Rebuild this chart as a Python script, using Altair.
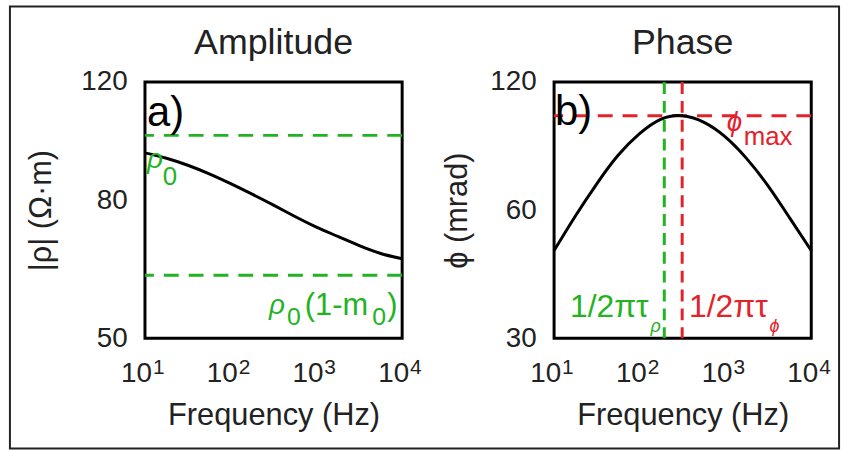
import altair as alt
import pandas as pd

# ---------------- data ----------------
amp_freq = [10, 17.8, 31.6, 56.2, 100, 178, 316, 562, 1000, 1778, 3162, 5623, 10000]
amplitude = [94.2, 92.5, 90.3, 87.7, 84.8, 81.8, 78.8, 75.8, 73.1, 70.8, 68.6, 66.8, 65.6]

phase_freq = [10, 17.5, 31.2, 55.5, 98.6, 175, 312, 555, 986, 1754, 3119, 5546, 10000]
phase = [48.2, 57.9, 69.0, 80.6, 90.6, 98.0, 100.0, 96.6, 89.3, 79.4, 68.5, 57.7, 48.2]

rho_lines = [100, 62]          # rho0 and rho0(1-m0)
phi_max = [100]                # phi_max
f_tau = [193, 312]             # 1/2*pi*tau_rho, 1/2*pi*tau_phi
f_tau_colors = ["green", "red"]

x_ticks = [10, 100, 1000, 10000]
x_exponents = ["1", "2", "3", "4"]
amp_ticks = [50, 80, 120]
phase_ticks = [30, 60, 120]

# ---------------- styles ----------------
W, H = 259, 258
GREEN = "#22b322"
RED = "#e3222b"
INK = "#222"
FONT = "Liberation Sans"

amp_df = pd.DataFrame({"freq": amp_freq, "amp": amplitude})
ph_df = pd.DataFrame({"freq": phase_freq, "phase": phase})
exp_df = pd.DataFrame({"tick": x_ticks, "exp": x_exponents})

x_scale = alt.Scale(type="log", domain=[10, 10000], nice=False)
x_axis = alt.Axis(values=x_ticks, labelExpr="'10'", labelOffset=-9,
                  labelFlush=False, labelOverlap=False,
                  title="Frequency (Hz)", labelPadding=22, titleY=87,
                  titleBaseline="alphabetic")


def label(text, x, y, color, size, italic=False, align="left"):
    return alt.Chart(pd.DataFrame({"t": [text]})).mark_text(
        text=text, align=align, baseline="alphabetic", color=color,
        fontSize=size, font=FONT, fontStyle="italic" if italic else "normal",
    ).encode(x=alt.value(x), y=alt.value(y))


def exponents():
    return alt.Chart(exp_df).mark_text(
        align="left", baseline="alphabetic", dx=8, fontSize=21, font=FONT, color=INK
    ).encode(x=alt.X("tick:Q", scale=x_scale), y=alt.value(H + 36), text="exp:N")


frame = alt.Chart(pd.DataFrame({"a": [0]})).mark_rect(
    fillOpacity=0, stroke=INK, strokeWidth=2
).encode(x=alt.value(-136), x2=alt.value(699), y=alt.value(-76), y2=alt.value(369))

# ---------------- amplitude panel ----------------
amp_y = alt.Y("amp:Q",
              scale=alt.Scale(type="log", domain=[50, 120], nice=False),
              axis=alt.Axis(values=amp_ticks, title="|ρ| (Ω·m)", labelPadding=18,
                            titleX=-104, titleBaseline="middle"))
amp_line = alt.Chart(amp_df).mark_line(color="black", strokeWidth=3, interpolate="natural").encode(
    x=alt.X("freq:Q", scale=x_scale, axis=x_axis), y=amp_y)
amp_rules = alt.Chart(pd.DataFrame({"v": rho_lines})).mark_rule(
    color=GREEN, strokeDash=[15, 10], strokeWidth=3).encode(y=alt.Y("v:Q"))

left = alt.layer(
    frame, amp_rules, amp_line, exponents(),
    label("Amplitude", W / 2, -28, INK, 36, align="center"),
    label("a)", 2, 44, "black", 42),
    label("ρ", 2, 87, GREEN, 28, italic=True),
    label("0", 18, 104, GREEN, 26),
    label("ρ", 125, 234, GREEN, 28, italic=True),
    label("0", 143, 245, GREEN, 25),
    label("(1-m", 161, 235, GREEN, 31),
    label("0", 229, 245, GREEN, 25),
    label(")", 244, 235, GREEN, 31),
).properties(width=W, height=H)

# ---------------- phase panel ----------------
ph_y = alt.Y("phase:Q",
             scale=alt.Scale(type="log", domain=[30, 120], nice=False),
             axis=alt.Axis(values=phase_ticks, title="ϕ (mrad)", labelPadding=18,
                           titleX=-97, titleBaseline="middle"))
ph_line = alt.Chart(ph_df).mark_line(color="black", strokeWidth=3, interpolate="natural").encode(
    x=alt.X("freq:Q", scale=x_scale, axis=x_axis), y=ph_y)
ph_hrule = alt.Chart(pd.DataFrame({"v": phi_max})).mark_rule(
    color=RED, strokeDash=[15, 10], strokeWidth=3).encode(y=alt.Y("v:Q"))
ph_vrules = alt.Chart(pd.DataFrame({"f": f_tau, "c": f_tau_colors})).mark_rule(
    strokeDash=[12, 7], strokeWidth=3).encode(
    x=alt.X("f:Q"),
    color=alt.Color("c:N", scale=alt.Scale(domain=["green", "red"], range=[GREEN, RED]), legend=None))

right = alt.layer(
    ph_vrules, ph_hrule, ph_line, exponents(),
    label("Phase", W / 2, -28, INK, 36, align="center"),
    label("b)", 1, 43, "black", 42),
    label("ϕ", 174, 49, RED, 28, italic=True),
    label("max", 191, 63, RED, 26),
    label("1/2πτ", 16, 237, GREEN, 32),
    label("ρ", 97, 252, GREEN, 18, italic=True),
    label("1/2πτ", 136, 237, RED, 32),
    label("ϕ", 217, 252, RED, 18, italic=True),
).properties(width=W, height=H)

chart = alt.hconcat(left, right, spacing=153, bounds="flush").properties(
    padding={"left": 7, "top": 2, "right": 6, "bottom": 3},
    background="white",
).configure_view(
    stroke="black", strokeWidth=3
).configure_axis(
    grid=False, ticks=False, domain=False,
    labelFont=FONT, labelFontSize=28, labelColor=INK,
    titleFont=FONT, titleFontSize=31, titleFontWeight="normal", titleColor=INK,
)

chart.save("out.html", embed_options={"renderer": "svg", "actions": False})
